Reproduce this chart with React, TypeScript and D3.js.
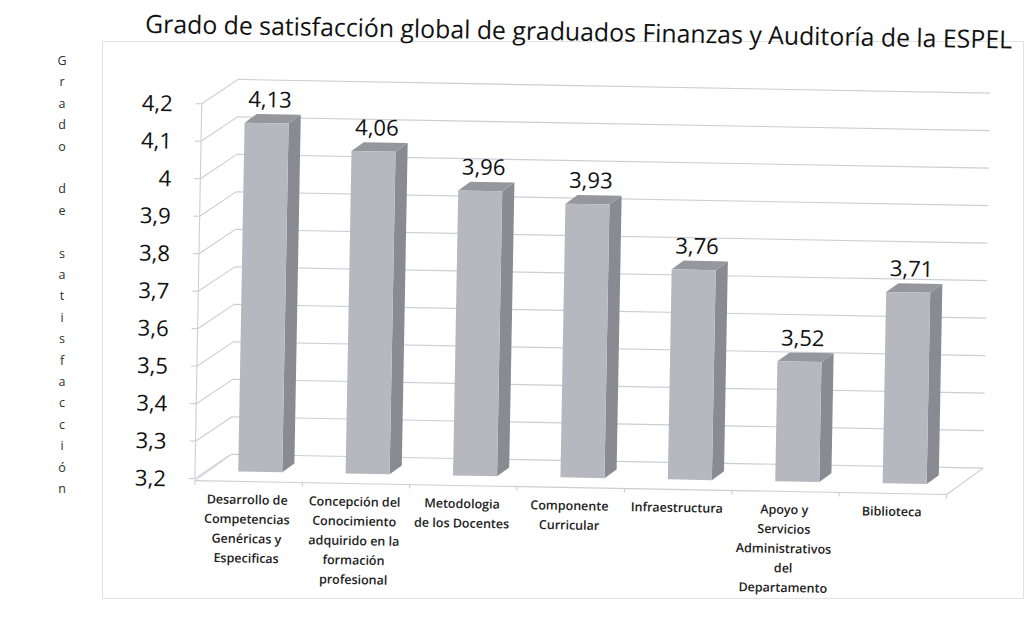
import React from 'react';
import * as d3 from 'd3';

const chartTitle = 'Grado de satisfacción global de graduados Finanzas y Auditoría de la ESPEL';
const axisTitle = 'Grado de satisfacción';
const categoryLines: string[][] = [
  ['Desarrollo de', 'Competencias', 'Genéricas y', 'Especificas'],
  ['Concepción del', 'Conocimiento', 'adquirido en la', 'formación', 'profesional'],
  ['Metodologia', 'de los Docentes'],
  ['Componente', 'Curricular'],
  ['Infraestructura'],
  ['Apoyo y', 'Servicios', 'Administrativos', 'del', 'Departamento'],
  ['Biblioteca'],
];
const values = [4.13, 4.06, 3.96, 3.93, 3.76, 3.52, 3.71];
const yTicks = [3.2, 3.3, 3.4, 3.5, 3.6, 3.7, 3.8, 3.9, 4.0, 4.1, 4.2];

const fmtTick = (t: number) => String(+t.toFixed(1)).replace('.', ',');
const fmtVal = (v: number) => v.toFixed(2).replace('.', ',');

export default function App() {
  const x0 = 198;
  const x1 = 950;
  const DX = 36;
  const DY = -25;
  const bdx = 11.5;
  const bdy = -8;
  const barDX = 12;
  const barDY = -9;
  const font = "'Open Sans', 'DejaVu Sans', sans-serif";
  const grid = '#cdcdd6';

  const y = d3.scaleLinear().domain([3.2, 4.2]).range([484.5, 109.5]);
  const x = d3
    .scaleBand<number>()
    .domain(d3.range(values.length))
    .range([x0, x1])
    .paddingInner(0.59)
    .paddingOuter(0.295);
  const bw = x.bandwidth();
  const step = x.step();
  const yBase = y(3.2);

  return (
    <svg
      width={1030}
      height={619}
      style={{ position: 'absolute', left: 0, top: 0, display: 'block', background: '#fff' }}
      fontFamily={font}
    >
      <rect x={0} y={0} width={1030} height={619} fill="#fff" />
      {/* outer chart border */}
      <rect x={102.5} y={41.5} width={921} height={557} fill="none" stroke="#e2e2e2" strokeWidth={1} />

      {/* vertical stacked axis title */}
      <g fill="#2e2e2e" fontSize={12.5} textAnchor="middle">
        {axisTitle.split('').map((ch, k) => (
          <text key={k} x={62} y={65 + k * 21.4}>
            {ch}
          </text>
        ))}
      </g>

      <g transform="rotate(1.05 515 310)">
        <text
          x={140}
          y={39.5}
          fontSize={25}
          fill="#111"
          textLength={867}
          lengthAdjust="spacingAndGlyphs"
        >
          {chartTitle}
        </text>

        {/* back wall gridlines */}
        <g stroke={grid} strokeWidth={1.1} fill="none">
          {yTicks.map((t) => (
            <line key={'b' + t} x1={x0 + DX} x2={x1 + DX} y1={y(t) + DY} y2={y(t) + DY} />
          ))}
          {/* left wall diagonals */}
          {yTicks.map((t) => (
            <line key={'l' + t} x1={x0} x2={x0 + DX} y1={y(t)} y2={y(t) + DY} />
          ))}
          {/* front axis line + ticks */}
          <line x1={x0} x2={x0} y1={y(4.2)} y2={yBase} />
          {yTicks.map((t) => (
            <line key={'t' + t} x1={x0 - 6} x2={x0} y1={y(t)} y2={y(t)} />
          ))}
          {/* floor */}
          <line x1={x0} x2={x1} y1={yBase + 2} y2={yBase + 2} />
          <line x1={x1} x2={x1 + DX} y1={yBase + 2} y2={yBase + DY} />
          <line x1={x0} x2={x0 + DX} y1={yBase + 2} y2={yBase + DY} />
          {d3.range(values.length + 1).map((i) => (
            <line key={'c' + i} x1={x0 + i * step} x2={x0 + i * step} y1={yBase + 2} y2={yBase + 6} />
          ))}
        </g>

        {/* tick labels */}
        <g fontSize={22} fill="#111" textAnchor="end">
          {yTicks.map((t) => (
            <text key={t} x={169} y={y(t) + 8}>
              {fmtTick(t)}
            </text>
          ))}
        </g>

        {/* bars */}
        {values.map((v, i) => {
          const left = (x(i) as number) + bdx;
          const top = y(v) + bdy;
          const bottom = yBase + bdy;
          const right = left + bw;
          return (
            <g key={i}>
              <polygon
                points={`${right},${top} ${right + barDX},${top + barDY} ${right + barDX},${bottom + barDY} ${right},${bottom}`}
                fill="#8a8a92"
              />
              <polygon
                points={`${left},${top} ${left + barDX},${top + barDY} ${right + barDX},${top + barDY} ${right},${top}`}
                fill="#96969d"
              />
              <rect x={left} y={top} width={bw} height={bottom - top} fill="#b7b7bf" />
              <text x={left + bw / 2 + 3} y={top - 16} fontSize={22} fill="#111" textAnchor="middle">
                {fmtVal(v)}
              </text>
            </g>
          );
        })}

        {/* category labels */}
        <g fontSize={12.5} fontWeight={600} fill="#222" textAnchor="middle">
          {categoryLines.map((lines, i) => (
            <text key={i} x={(x(i) as number) + bw / 2 - 1} y={509}>
              {lines.map((ln, k) => (
                <tspan key={k} x={(x(i) as number) + bw / 2 - 1} dy={k === 0 ? 0 : 19.5}>
                  {ln}
                </tspan>
              ))}
            </text>
          ))}
        </g>
      </g>
    </svg>
  );
}
